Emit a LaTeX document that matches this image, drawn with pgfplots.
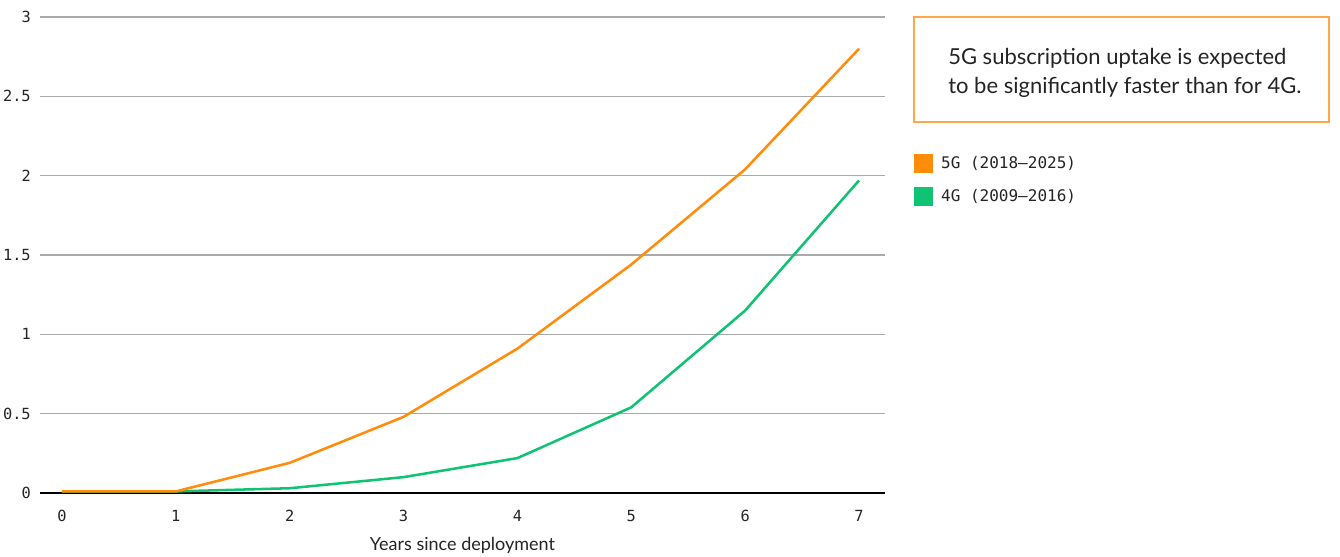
\documentclass[border=0pt]{standalone}
\usepackage{pgfplots}
\pgfplotsset{compat=1.18}
\usepackage{fontspec}
\setmainfont{Lato}
\newfontfamily\monofont{DejaVu Sans Mono}
\definecolor{eorange}{HTML}{FF8C0A}
\definecolor{egreen}{HTML}{0FC373}
\definecolor{gridgray}{HTML}{AAAAAA}
\definecolor{boxorange}{HTML}{FFA64D}
\definecolor{txt}{HTML}{242424}
\begin{document}
\begin{tikzpicture}[x=0.75pt,y=0.75pt]
\path[use as bounding box] (-40,-64) rectangle (1300,493);
\begin{axis}[at={(0,0)}, anchor=south west, scale only axis,
  width=633.75pt, height=357pt,
  xmin=-0.193, xmax=7.228, ymin=0, ymax=3,
  axis x line=bottom, axis y line=left,
  axis line style={-},
  x axis line style={black, line width=1.1pt},
  y axis line style={draw=none},
  xtick={0,1,...,7}, ytick={0,0.5,...,3},
  major tick length=0pt, tick style={draw=none},
  ymajorgrids, grid style={gridgray, line width=0.8pt},
  /pgf/number format/assume math mode=true,
  ticklabel style={font=\monofont\fontsize{11.5}{13}\selectfont, text=txt},
  yticklabel style={inner sep=0pt, anchor=east, xshift=-6.75pt},
  xticklabel style={inner sep=0pt, anchor=north, yshift=-12.5pt},
  xlabel={Years since deployment},
  xlabel style={at={(rel axis cs:0.5,0)}, anchor=center, yshift=-39pt,
    font=\fontsize{13.5}{15}\selectfont, text=txt},
  legend style={at={(rel axis cs:1.034,0.714)}, anchor=north west,
    draw=none, fill=none, inner sep=0pt, row sep=10.5pt,
    font=\monofont\fontsize{12}{14}\selectfont, text=txt,
    nodes={inner sep=2pt}},
  legend cell align=left,
  legend image code/.code={\fill[#1] (0pt,-6.75pt) rectangle (13.5pt,6.75pt);\path (18pt,0pt);},
]
\addlegendimage{eorange}
\addlegendentry{5G (2018–2025)}
\addlegendimage{egreen}
\addlegendentry{4G (2009–2016)}
\addplot[egreen, line width=1.9pt, forget plot] coordinates {
(0,0.01)(1,0.01)(2,0.03)(3,0.10)(4,0.22)(5,0.54)(6,1.15)(7,1.97)};
\addplot[eorange, line width=1.9pt, forget plot] coordinates {
(0,0.01)(1,0.01)(2,0.19)(3,0.48)(4,0.91)(5,1.44)(6,2.04)(7,2.80)};
\end{axis}
\draw[boxorange, line width=0.9pt] (874,371) rectangle (1289,476);
\node[anchor=west, align=left, inner sep=0pt, text=txt,
  font=\fontsize{16.5}{22}\selectfont] at (908,420) {5G subscription uptake is expected\\to be significantly faster than for 4G.};
\end{tikzpicture}
\end{document}
